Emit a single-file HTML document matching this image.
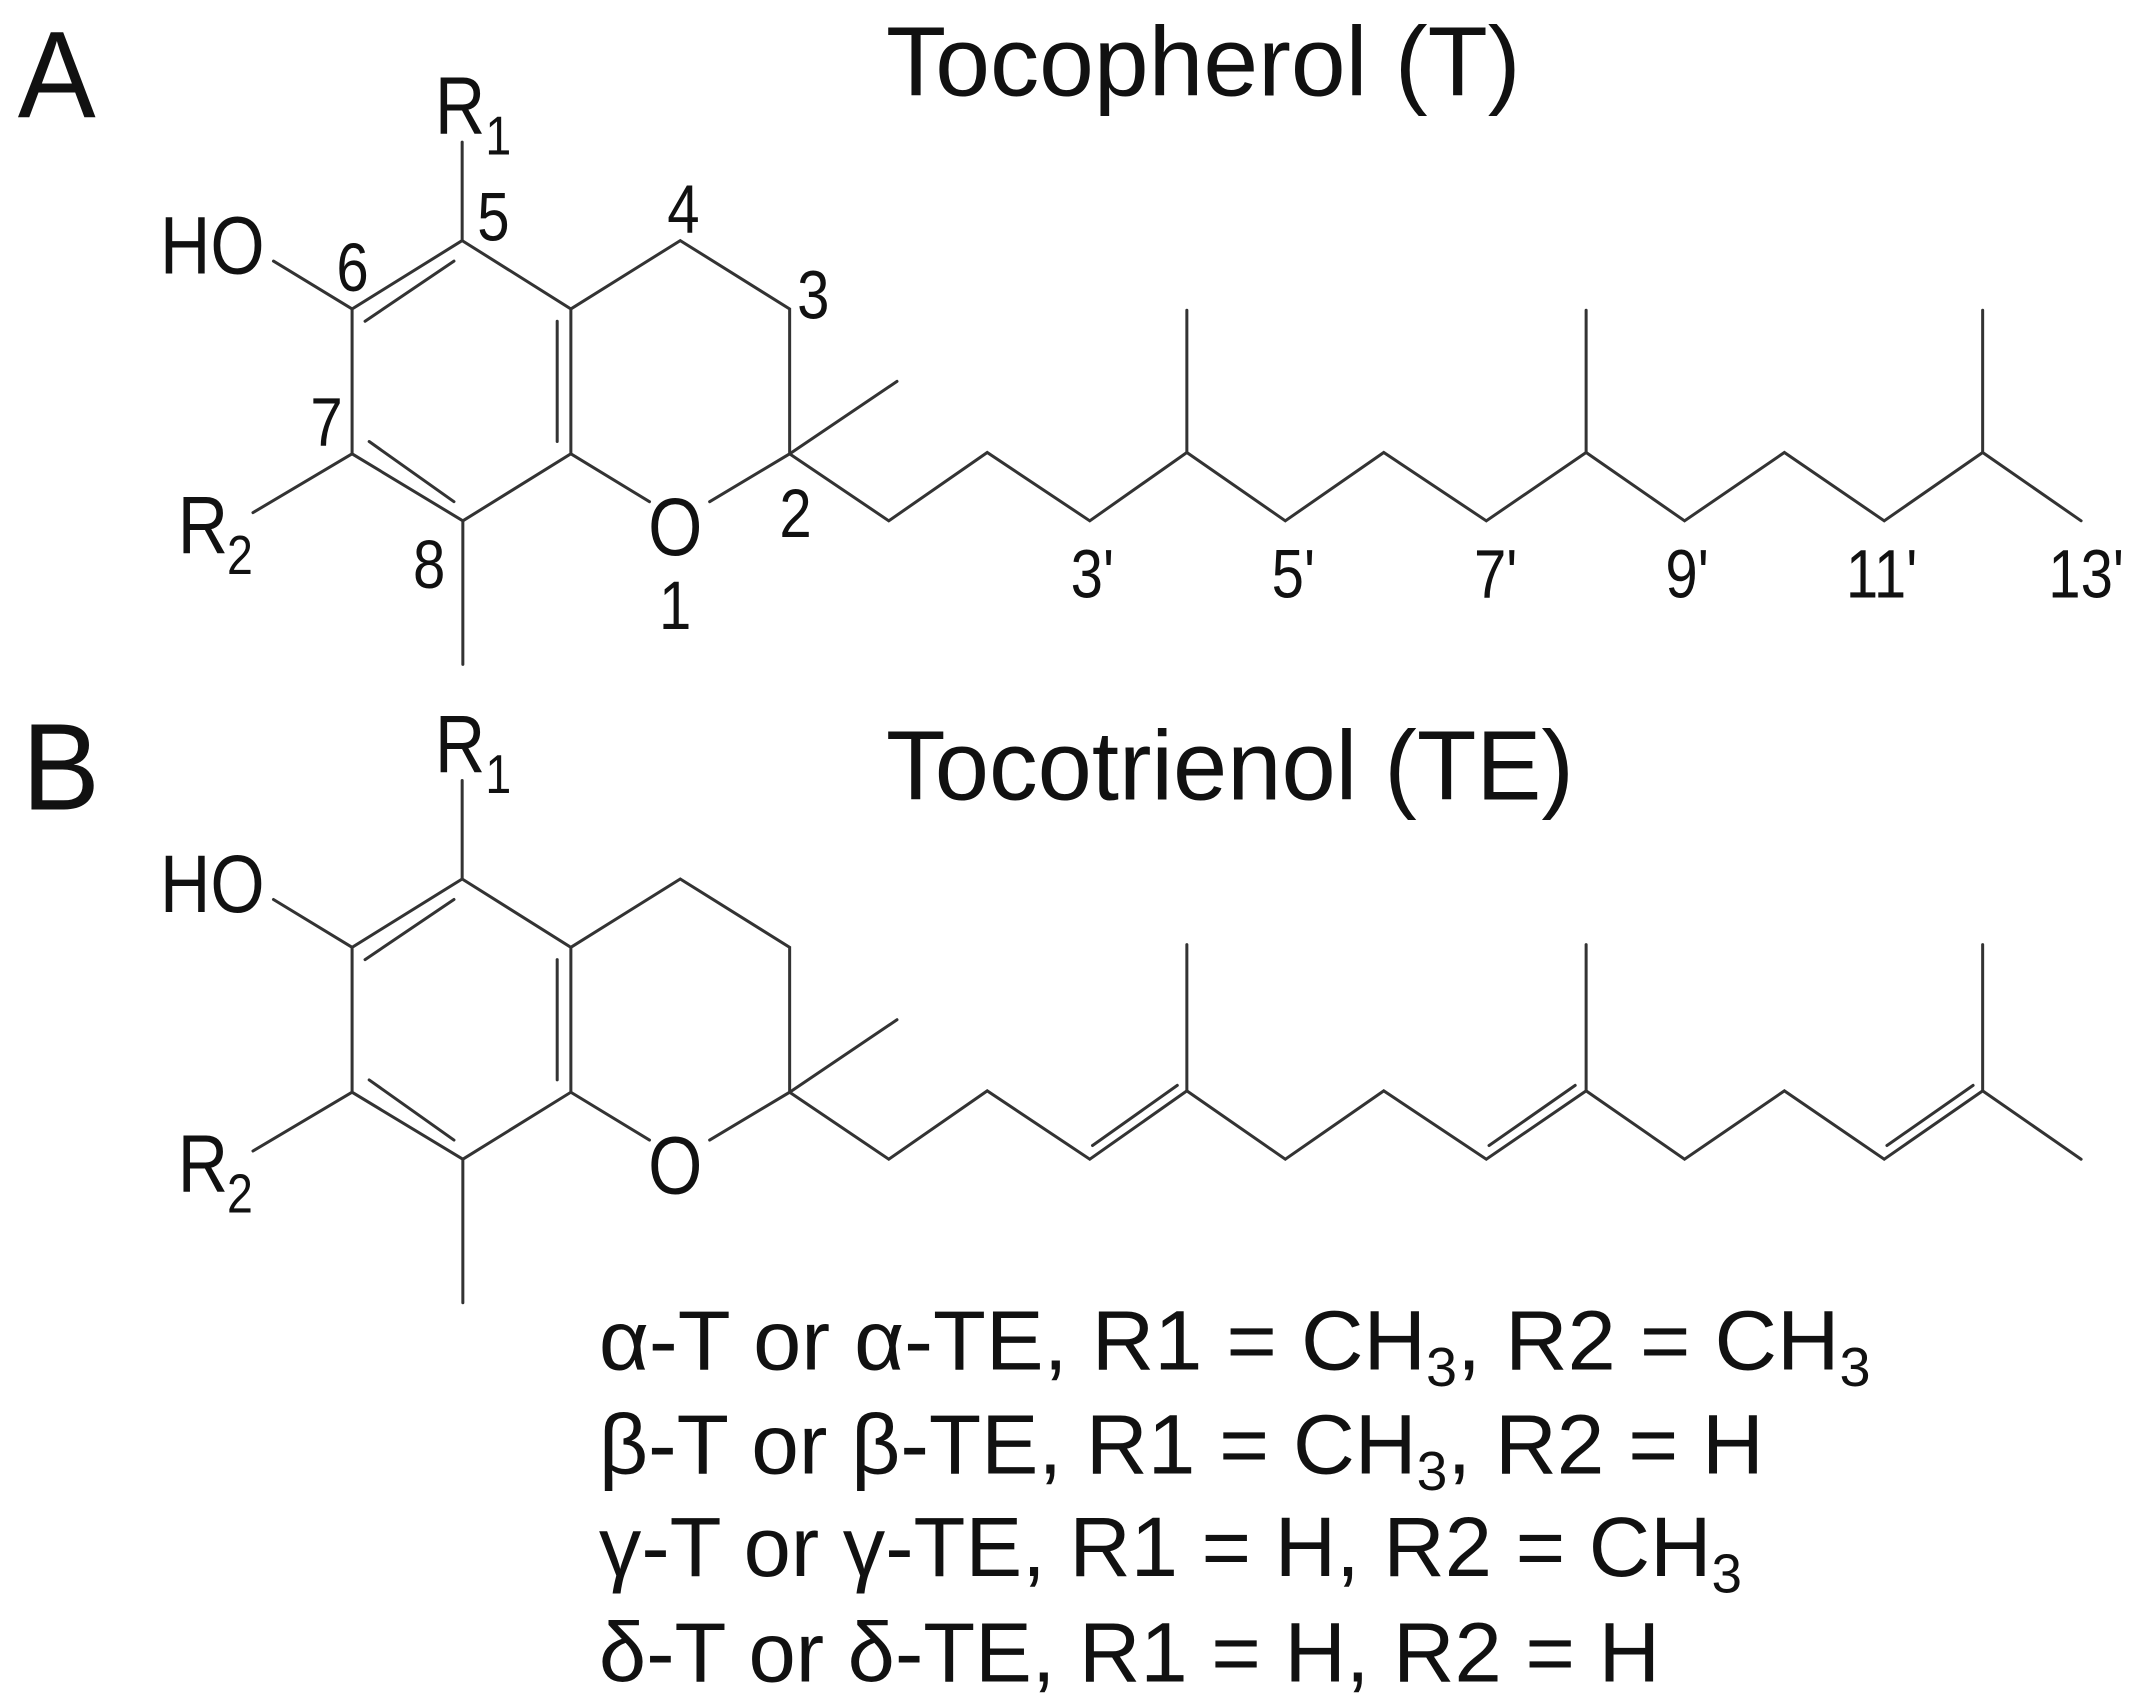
<!DOCTYPE html>
<html><head><meta charset="utf-8"><style>
html,body{margin:0;padding:0;background:#fff;}
svg{display:block;}
text{font-family:"Liberation Sans",Arial,sans-serif;fill:#111;}
</style></head><body>
<svg width="2144" height="1706" viewBox="0 0 1568 1248" preserveAspectRatio="none" xmlns="http://www.w3.org/2000/svg">
<defs>
<g id="ring" stroke="#333" stroke-width="2.2" fill="none" stroke-linecap="round">
  <!-- benzene ring -->
  <polyline points="338,176 257.5,226 257.5,332 338.5,381 417.5,332 417.5,226 338,176"/>
  <line x1="332" y1="191" x2="267" y2="235"/>
  <line x1="407.5" y1="235" x2="407.5" y2="323"/>
  <line x1="270" y1="323" x2="332" y2="367"/>
  <!-- substituents -->
  <line x1="338" y1="176" x2="338" y2="104"/>
  <line x1="257.5" y1="226" x2="200" y2="191"/>
  <line x1="257.5" y1="332" x2="185" y2="375"/>
  <line x1="338.5" y1="381" x2="338.5" y2="486"/>
  <!-- pyran ring -->
  <polyline points="417.5,226 497.5,176 577.5,226 577.5,332 519,367"/>
  <line x1="417.5" y1="332" x2="475" y2="367"/>
  <line x1="577.5" y1="332" x2="656" y2="279"/>
</g>
<g id="lbl">
  <text transform="translate(318,98) scale(0.85,1)" font-size="60">R</text>
  <text transform="translate(355,113) scale(0.85,1)" font-size="40">1</text>
  <text transform="translate(117,200) scale(0.85,1)" font-size="60">HO</text>
  <text transform="translate(130,405) scale(0.85,1)" font-size="60">R</text>
  <text transform="translate(166,420) scale(0.85,1)" font-size="40">2</text>
  <text transform="translate(474,406) scale(0.85,1)" font-size="60">O</text>
</g>
</defs>

<!-- Panel A -->
<text transform="translate(13,86) scale(0.95,1)" font-size="90">A</text>
<text x="648" y="70" font-size="72" textLength="464" lengthAdjust="spacingAndGlyphs">Tocopherol (T)</text>
<use href="#ring"/>
<use href="#lbl"/>
<g stroke="#333" stroke-width="2.2" fill="none" stroke-linecap="round" stroke-linejoin="miter">
  <polyline points="577.5,332 650,381 722,331 797,381 868,331 940,381 1012,331 1087,381 1160,331 1232,381 1305,331 1378,381 1450,331 1522,381"/>
  <line x1="868" y1="331" x2="868" y2="227"/>
  <line x1="1160" y1="331" x2="1160" y2="227"/>
  <line x1="1450" y1="331" x2="1450" y2="227"/>
</g>
<g font-size="50">
  <text transform="translate(488,170) scale(0.85,1)">4</text>
  <text transform="translate(583,233) scale(0.85,1)">3</text>
  <text transform="translate(349,176) scale(0.85,1)">5</text>
  <text transform="translate(246,213) scale(0.85,1)">6</text>
  <text transform="translate(227,326) scale(0.85,1)">7</text>
  <text transform="translate(302,430) scale(0.85,1)">8</text>
  <text transform="translate(482,460) scale(0.85,1)">1</text>
  <text transform="translate(570,393) scale(0.85,1)">2</text>
  <text transform="translate(783,437) scale(0.85,1)">3'</text>
  <text transform="translate(930,437) scale(0.85,1)">5'</text>
  <text transform="translate(1078,437) scale(0.85,1)">7'</text>
  <text transform="translate(1218,437) scale(0.85,1)">9'</text>
  <text transform="translate(1350,437) scale(0.85,1)">11'</text>
  <text transform="translate(1498,437) scale(0.85,1)">13'</text>
</g>

<!-- Panel B -->
<text transform="translate(16,592) scale(0.95,1)" font-size="90">B</text>
<text x="648" y="585" font-size="72" textLength="503" lengthAdjust="spacingAndGlyphs">Tocotrienol (TE)</text>
<g transform="translate(0,467)">
  <use href="#ring"/>
  <use href="#lbl"/>
  <g stroke="#333" stroke-width="2.2" fill="none" stroke-linecap="round">
    <polyline points="577.5,332 650,381 722,331 797,381 868,331 940,381 1012,331 1087,381 1160,331 1232,381 1305,331 1378,381 1450,331 1522,381"/>
    <line x1="868" y1="331" x2="868" y2="224"/>
    <line x1="1160" y1="331" x2="1160" y2="224"/>
    <line x1="1450" y1="331" x2="1450" y2="224"/>
    <line x1="799" y1="371" x2="861" y2="327"/>
    <line x1="1089" y1="371" x2="1152" y2="327"/>
    <line x1="1380" y1="371" x2="1443" y2="327"/>
  </g>
</g>

<!-- list -->
<g font-size="62">
  <text x="438" y="1002" textLength="930" lengthAdjust="spacingAndGlyphs">α-T or α-TE, R1 = CH<tspan font-size="40" dy="12">3</tspan><tspan dy="-12">, R2 = CH</tspan><tspan font-size="40" dy="12">3</tspan></text>
  <text x="438" y="1078" textLength="852" lengthAdjust="spacingAndGlyphs">β-T or β-TE, R1 = CH<tspan font-size="40" dy="12">3</tspan><tspan dy="-12">, R2 = H</tspan></text>
  <text x="438" y="1153" textLength="836" lengthAdjust="spacingAndGlyphs">γ-T or γ-TE, R1 = H, R2 = CH<tspan font-size="40" dy="12">3</tspan></text>
  <text x="438" y="1230" textLength="776" lengthAdjust="spacingAndGlyphs">δ-T or δ-TE, R1 = H, R2 = H</text>
</g>
</svg>
</body></html>
